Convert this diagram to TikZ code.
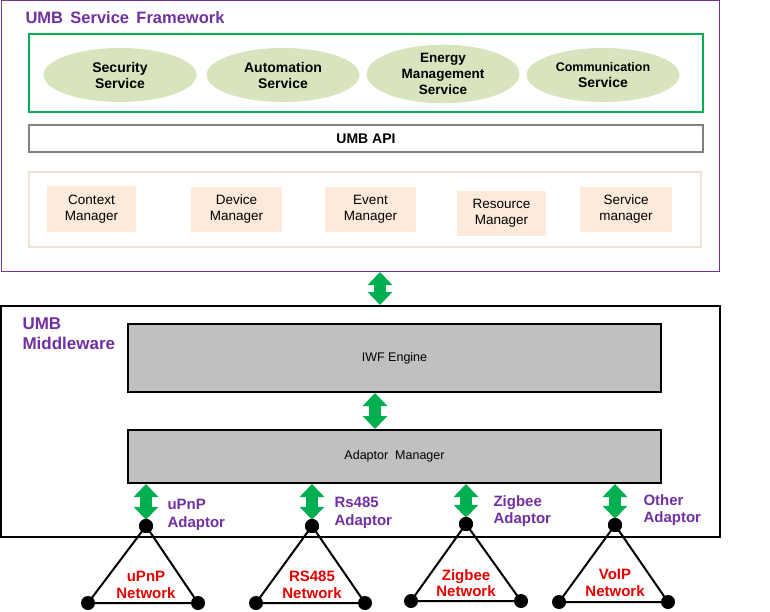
\documentclass[tikz,border=0pt]{standalone}
\usepackage{fontspec}
\setmainfont{Liberation Sans}
\usetikzlibrary{arrows.meta,shapes.geometric}
\definecolor{umbpurple}{HTML}{7030A0}
\definecolor{umbgreen}{HTML}{00B050}
\definecolor{ellfill}{HTML}{D7E4BD}
\definecolor{mgrfill}{HTML}{FDEADA}
\definecolor{mgrline}{HTML}{EFE3D3}
\definecolor{boxgray}{HTML}{C0C0C0}
\definecolor{netred}{HTML}{E60000}
\tikzset{
  box/.style={draw, rectangle, inner sep=0pt},
  ell/.style={ellipse, fill=ellfill, inner sep=0pt, minimum width=153, minimum height=54, align=center, font=\fontsize{14}{16}\selectfont\bfseries},
  mgr/.style={rectangle, fill=mgrfill, inner sep=0pt, align=center, font=\fontsize{13.5}{16}\selectfont},
  engine/.style={box, fill=boxgray, line width=2pt, minimum width=533, font=\fontsize{12.5}{14}\selectfont},
  dbl/.style={umbgreen, line width=12pt, {Triangle[length=13pt,width=24pt]}-{Triangle[length=13pt,width=24pt]}, shorten <=0pt, shorten >=0pt},
  dot/.style={circle, fill=black, inner sep=0pt, minimum size=14},
  adlbl/.style={anchor=west, align=left, text=umbpurple, font=\fontsize{15}{17.5}\selectfont\bfseries},
  netlbl/.style={align=center, text=netred, font=\fontsize{15}{16.5}\selectfont\bfseries},
  tri/.style={line width=2pt},
}
\begin{document}
\begin{tikzpicture}[x=1pt,y=-1pt]
\useasboundingbox (0,0) rectangle (770,612);
% framework
\node[box, draw=umbpurple, line width=1pt, minimum width=718, minimum height=271] (fw) at (360,136) {};
\node[anchor=west, text=umbpurple, font=\fontsize{16.5}{18}\selectfont\bfseries] (fwt) at (22,18) {UMB\, Service\, Framework};
\node[box, draw=umbgreen, line width=1.6pt, minimum width=674, minimum height=78] (gb) at (366,73) {};
\node[ell] (sec) at (120,75) {Security\\Service};
\node[ell] (aut) at (283,75) {Automation\\Service};
\node[ell, font=\fontsize{13.5}{16}\selectfont\bfseries] (ene) at (443,74) {Energy\\Management\\Service};
\node[ell, font=\fontsize{12.5}{16}\selectfont\bfseries] (com) at (603,75) {Communication\\{\fontsize{14}{16}\selectfont Service}};
\node[box, draw=gray, line width=1.6pt, minimum width=674, minimum height=27, font=\fontsize{14}{16}\selectfont\bfseries] (api) at (366,138.5) {UMB API};
\node[box, draw=mgrline, line width=1.6pt, minimum width=672, minimum height=75] (mb) at (365,209.5) {};
\node[mgr, minimum width=89, minimum height=46] (cm) at (91.5,209) {Context\\Manager};
\node[mgr, minimum width=91, minimum height=45] (dm) at (236.5,209.5) {Device\\Manager};
\node[mgr, minimum width=91, minimum height=45] (em) at (370.5,209.5) {Event\\Manager};
\node[mgr, minimum width=89, minimum height=45] (rm) at (501.5,213.5) {Resource\\Manager};
\node[mgr, minimum width=92, minimum height=45] (sm) at (626,209.5) {Service\\manager};
% middleware
\node[box, line width=2pt, minimum width=719, minimum height=231] (mw) at (360.5,421.5) {};
\node[anchor=north west, align=left, text=umbpurple, font=\fontsize{17}{20.5}\selectfont\bfseries] (mwt) at (19,314) {UMB\\Middleware};
\node[engine, minimum height=68] (iwf) at (394.5,358) {IWF Engine};
\node[engine, minimum height=53] (am) at (394.5,456.5) {Adaptor\ \ Manager};
\coordinate (c1) at (380,0);
\coordinate (c2) at (375,0);
\draw[dbl] (fw.south -| c1) -- (mw.north -| c1);
\draw[dbl] (iwf.south -| c2) -- (am.north -| c2);
% adaptors
\node[dot] (d1) at (146,526) {};
\node[dot] (d2) at (312,526) {};
\node[dot] (d3) at (466,524) {};
\node[dot] (d4) at (615,525) {};
\draw[dbl] (am.south -| d1) -- ([yshift=-1pt]d1.north);
\draw[dbl] (am.south -| d2) -- ([yshift=-1pt]d2.north);
\draw[dbl] (am.south -| d3) -- ([yshift=-1pt]d3.north);
\draw[dbl] (am.south -| d4) -- ([yshift=-1pt]d4.north);
\node[adlbl] (l1) at (164,515) {uPnP\\Adaptor};
\node[adlbl] (l2) at (331,513) {Rs485\\Adaptor};
\node[adlbl] (l3) at (490,511) {Zigbee\\Adaptor};
\node[adlbl] (l4) at (640,510) {Other\\Adaptor};
% networks
\node[dot] (b1l) at (88,603) {};
\node[dot] (b1r) at (198,603) {};
\node[dot] (b2l) at (256,603) {};
\node[dot] (b2r) at (365,603) {};
\node[dot] (b3l) at (411,601) {};
\node[dot] (b3r) at (521,601) {};
\node[dot] (b4l) at (559,602) {};
\node[dot] (b4r) at (668,602) {};
\draw[tri] (d1.center) -- (b1l.center) -- (b1r.center) -- cycle;
\draw[tri] (d2.center) -- (b2l.center) -- (b2r.center) -- cycle;
\draw[tri] (d3.center) -- (b3l.center) -- (b3r.center) -- cycle;
\draw[tri] (d4.center) -- (b4l.center) -- (b4r.center) -- cycle;
\node[dot] at (d1) {};\node[dot] at (d2) {};\node[dot] at (d3) {};\node[dot] at (d4) {};
\node[netlbl] (n1) at (146,585) {uPnP\\Network};
\node[netlbl] (n2) at (312,585) {RS485\\Network};
\node[netlbl] (n3) at (466,583) {Zigbee\\Network};
\node[netlbl] (n4) at (615,583) {VoIP\\Network};
\end{tikzpicture}
\end{document}
